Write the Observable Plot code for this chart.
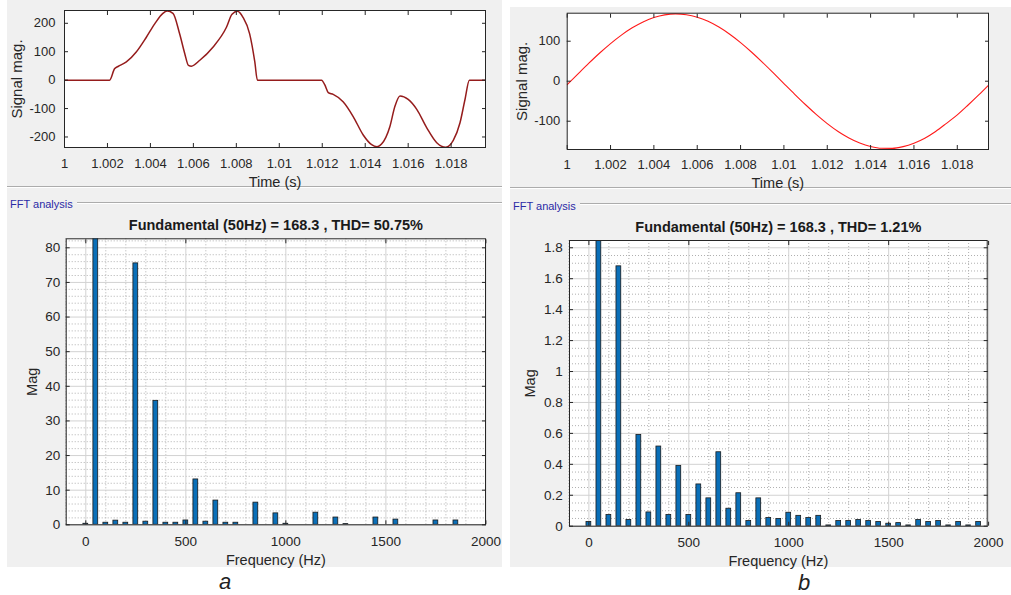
<!DOCTYPE html>
<html><head><meta charset="utf-8">
<script src="https://cdn.jsdelivr.net/npm/d3@7"></script>
<script src="https://cdn.jsdelivr.net/npm/@observablehq/plot@0.6"></script>
<style>
body{margin:0;background:#fff;width:1011px;height:595px;position:relative;overflow:hidden;font-family:"Liberation Sans",Arial,Helvetica,sans-serif;}
.panel{position:absolute;background:#f0f0f0;}
.abs{position:absolute;}
.sep{position:absolute;height:0;border-top:1px solid #acacac;border-bottom:1px solid #ffffff;}
.fft{position:absolute;font-size:11px;color:#2b2ba6;line-height:12px;white-space:nowrap;}
.tag{position:absolute;font-style:italic;font-size:22px;color:#222;line-height:20px;}
</style></head><body>
<div class="panel" style="left:7px;top:0;width:495px;height:567px"></div>
<div class="panel" style="left:510px;top:7px;width:501px;height:560px"></div>
<div class="sep" style="left:7px;top:186px;width:495px"></div>
<div class="sep" style="left:510px;top:187px;width:501px"></div>
<div class="sep" style="left:77px;top:202px;width:425px"></div>
<div class="sep" style="left:580px;top:203px;width:431px"></div>
<div class="fft" style="left:10px;top:198px">FFT analysis</div>
<div class="fft" style="left:513px;top:200px">FFT analysis</div>
<div id="p1" class="abs" style="left:7px;top:0px"></div>
<div id="p2" class="abs" style="left:510px;top:7px"></div>
<div id="p3" class="abs" style="left:7px;top:203px"></div>
<div id="p4" class="abs" style="left:510px;top:203px"></div>
<div class="tag" style="left:219px;top:572px">a</div>
<div class="tag" style="left:798px;top:573px">b</div>
<script>
// ---------- data ----------
const timeA = [1.0000,1.0021,1.00233,1.00249,1.00288,1.00334,1.00381,1.0042,1.00458,1.00478,1.00505,1.00536,1.0056,1.00577,1.00591,1.0063,1.00691,1.00754,1.0078,1.00805,1.00831,1.00862,1.00886,1.00898,1.01197,1.01212,1.01228,1.01251,1.01297,1.01344,1.0139,1.0143,1.01455,1.01476,1.01515,1.01538,1.01562,1.016,1.0164,1.01686,1.01733,1.01775,1.0181,1.01841,1.01864,1.01885,1.0196];
const sigA = [0,0,40,48,64,99,151,198,235,243,235,163,93,52,49,70,116,186,232,242,221,163,64,0,0,-17,-44,-50,-76,-128,-192,-227,-234,-225,-163,-93,-56,-68,-103,-167,-220,-236,-212,-151,-70,0,0];

const timeB = [1.0000,1.0005,1.0010,1.0015,1.0020,1.0025,1.0030,1.0035,1.0040,1.0045,1.0050,1.0055,1.0060,1.0065,1.0070,1.0075,1.0080,1.0085,1.0090,1.0095,1.0100,1.0105,1.0110,1.0115,1.0120,1.0125,1.0130,1.0135,1.0140,1.0145,1.0150,1.0155,1.0160,1.0165,1.0170,1.0175,1.0180,1.0185,1.0190,1.0195];
const sigB = [-8.8,18.3,45.0,70.5,94.1,115.3,133.5,148.3,159.1,165.9,168.3,166.3,160.1,149.6,135.3,117.4,96.5,73.1,47.8,21.2,-5.9,-32.8,-58.9,-83.5,-105.9,-125.6,-141.9,-154.6,-163.3,-167.7,-167.8,-163.5,-154.9,-142.4,-125.6,-105.3,-84.2,-59.5,-33.6,-6.6];

const freq = [0,50,100,150,200,250,300,350,400,450,500,550,600,650,700,750,800,850,900,950,1000,1050,1100,1150,1200,1250,1300,1350,1400,1450,1500,1550,1600,1650,1700,1750,1800,1850,1900,1950];
const magA = [0.3,168.3,0.6,1.2,0.6,75.5,0.9,35.8,0.6,0.6,1.25,13.1,0.9,7.0,0.6,0.6,0,6.4,0,3.3,0.3,0,0,3.5,0,2.1,0.2,0,0,2.1,0,1.5,0,0,0,1.25,0,1.25,0,0];
const magB = [0.027,168.3,0.073,1.68,0.04,0.59,0.089,0.515,0.073,0.39,0.073,0.27,0.18,0.478,0.113,0.213,0.033,0.18,0.053,0.047,0.087,0.067,0.053,0.067,0.005,0.033,0.033,0.04,0.033,0.027,0.016,0.02,0.005,0.04,0.027,0.033,0.005,0.027,0.005,0.027];

const timeTicks = [1,1.002,1.004,1.006,1.008,1.01,1.012,1.014,1.016,1.018];
const sigTicksA = [-200,-100,0,100,200];
const sigTicksB = [-100,0,100];
const freqTicks = [0,500,1000,1500,2000];
const magTicksA = [0,10,20,30,40,50,60,70,80];
const magTicksB = [0,0.2,0.4,0.6,0.8,1,1.2,1.4,1.6,1.8];

const titleA = "Fundamental (50Hz) = 168.3 , THD= 50.75%";
const titleB = "Fundamental (50Hz) = 168.3 , THD= 1.21%";

// ---------- styling ----------
const FONT = '"Liberation Sans", Arial, Helvetica, sans-serif';
const INK = "#262626";
const baseStyle = {background: "transparent", fontFamily: FONT, fontSize: "13px", color: INK, overflow: "visible"};

function signalPlot(o) {
  const data = o.t.map((x, i) => ({t: x, v: o.v[i]}));
  return Plot.plot({
    width: o.width, height: o.height,
    marginLeft: o.ml, marginRight: o.mr, marginTop: o.mt, marginBottom: o.mb,
    x: {domain: o.xDomain}, y: {domain: o.yDomain},
    style: baseStyle,
    marks: [
      Plot.frame({fill: "white"}),
      Plot.line(data, {x: "t", y: "v", stroke: o.stroke, strokeWidth: o.sw, curve: "monotone-x", clip: true}),
      Plot.frame({stroke: INK}),
      Plot.axisX({ticks: timeTicks, anchor: "bottom", tickSize: -4, tickPadding: o.xPad, label: null, tickFormat: d => String(+d.toFixed(4))}),
      Plot.axisX({ticks: timeTicks, anchor: "top", tickSize: -4, label: null, tickFormat: () => ""}),
      Plot.axisY({ticks: o.yTicks, anchor: "left", tickSize: -4, tickPadding: o.yPad, label: null, tickFormat: d => String(d)}),
      Plot.axisY({ticks: o.yTicks, anchor: "right", tickSize: -4, label: null, tickFormat: () => ""}),
      Plot.text(["Time (s)"], {text: d => d, frameAnchor: "bottom", dy: o.xlabDy, lineAnchor: "middle", textAnchor: "middle", fontSize: 14.5, fill: INK}),
      Plot.text(["Signal mag."], {text: d => d, frameAnchor: "left", dx: o.ylabDx, rotate: -90, lineAnchor: "middle", textAnchor: "middle", fontSize: 15, fill: INK})
    ]
  });
}

function fftPlot(o) {
  const data = freq.map((f, i) => ({f, m: o.mag[i]}));
  const minorX = d3.range(-100, 2001, 100).filter(d => d % 500 !== 0);
  const minorY = o.minorY.filter(d => !o.yTicks.some(t => Math.abs(t - d) < 1e-9));
  return Plot.plot({
    width: o.width, height: o.height,
    marginLeft: o.ml, marginRight: o.mr, marginTop: o.mt, marginBottom: o.mb,
    x: {domain: o.xDomain}, y: {domain: o.yDomain},
    style: baseStyle,
    marks: [
      Plot.frame({fill: "white"}),
      Plot.gridX(minorX, {stroke: "#b0b0b0", strokeOpacity: 1, strokeDasharray: "1,2"}),
      Plot.gridY(minorY, {stroke: "#b0b0b0", strokeOpacity: 1, strokeDasharray: "1,2"}),
      Plot.gridX(freqTicks, {stroke: "#d2d2d2", strokeOpacity: 1}),
      Plot.gridY(o.yTicks, {stroke: "#d2d2d2", strokeOpacity: 1}),
      Plot.rect(data, {x1: d => d.f - 12, x2: d => d.f + 12, y1: 0, y2: "m", fill: "#0a6fb8", stroke: "#1a1a1a", strokeWidth: 0.8, clip: true}),
      Plot.frame({stroke: INK}),
      Plot.axisX({ticks: freqTicks, anchor: "bottom", tickSize: -4, tickPadding: o.xPad, label: null, tickFormat: d => String(d), fontSize: 13.5}),
      Plot.axisX({ticks: freqTicks, anchor: "top", tickSize: -4, label: null, tickFormat: () => ""}),
      Plot.axisY({ticks: o.yTicks, anchor: "left", tickSize: -4, tickPadding: o.yPad, label: null, tickFormat: d => String(d), fontSize: 13.5}),
      Plot.axisY({ticks: o.yTicks, anchor: "right", tickSize: -4, label: null, tickFormat: () => ""}),
      Plot.text([o.title], {text: d => d, frameAnchor: "top", dy: o.titleDy, lineAnchor: "middle", textAnchor: "middle", fontSize: 14.5, fontWeight: "bold", fill: "#1a1a1a"}),
      Plot.text(["Frequency (Hz)"], {text: d => d, frameAnchor: "bottom", dy: o.xlabDy, lineAnchor: "middle", textAnchor: "middle", fontSize: 14.5, fill: INK}),
      Plot.text(["Mag"], {text: d => d, frameAnchor: "left", dx: o.ylabDx, rotate: -90, lineAnchor: "middle", textAnchor: "middle", fontSize: 14.5, fill: INK})
    ]
  });
}

document.getElementById("p1").append(signalPlot({
  t: timeA, v: sigA, width: 495, height: 186, ml: 57, mr: 17, mt: 10, mb: 39,
  xDomain: [1, 1.0196], yDomain: [-237, 245], yTicks: sigTicksA,
  stroke: "#951c1c", sw: 1.5, xPad: 15.5, yPad: 13, xlabDy: 35, ylabDx: -47
}));
document.getElementById("p2").append(signalPlot({
  t: timeB, v: sigB, width: 501, height: 180, ml: 56.7, mr: 23, mt: 5.7, mb: 38,
  xDomain: [1, 1.01944], yDomain: [-170.7, 170], yTicks: sigTicksB,
  stroke: "#ff1a1a", sw: 1.1, xPad: 14, yPad: 11, xlabDy: 34, ylabDx: -45
}));
document.getElementById("p3").append(fftPlot({
  mag: magA, width: 495, height: 364, ml: 58.7, mr: 17, mt: 35.3, mb: 42.7,
  xDomain: [-98, 1998], yDomain: [0, 82.6], yTicks: magTicksA, minorY: d3.range(0, 83, 2),
  title: titleA, titleDy: -13.3, xPad: 15.2, yPad: 10, xlabDy: 35.2, ylabDx: -34
}));
document.getElementById("p4").append(fftPlot({
  mag: magB, width: 501, height: 364, ml: 59, mr: 24.3, mt: 37, mb: 41.3,
  xDomain: [-97, 1993], yDomain: [0, 1.847], yTicks: magTicksB, minorY: d3.range(0, 1.85, 0.05).map(d => +d.toFixed(2)),
  title: titleB, titleDy: -12.7, xPad: 15.5, yPad: 10.7, xlabDy: 35, ylabDx: -39
}));
</script>
</body></html>
